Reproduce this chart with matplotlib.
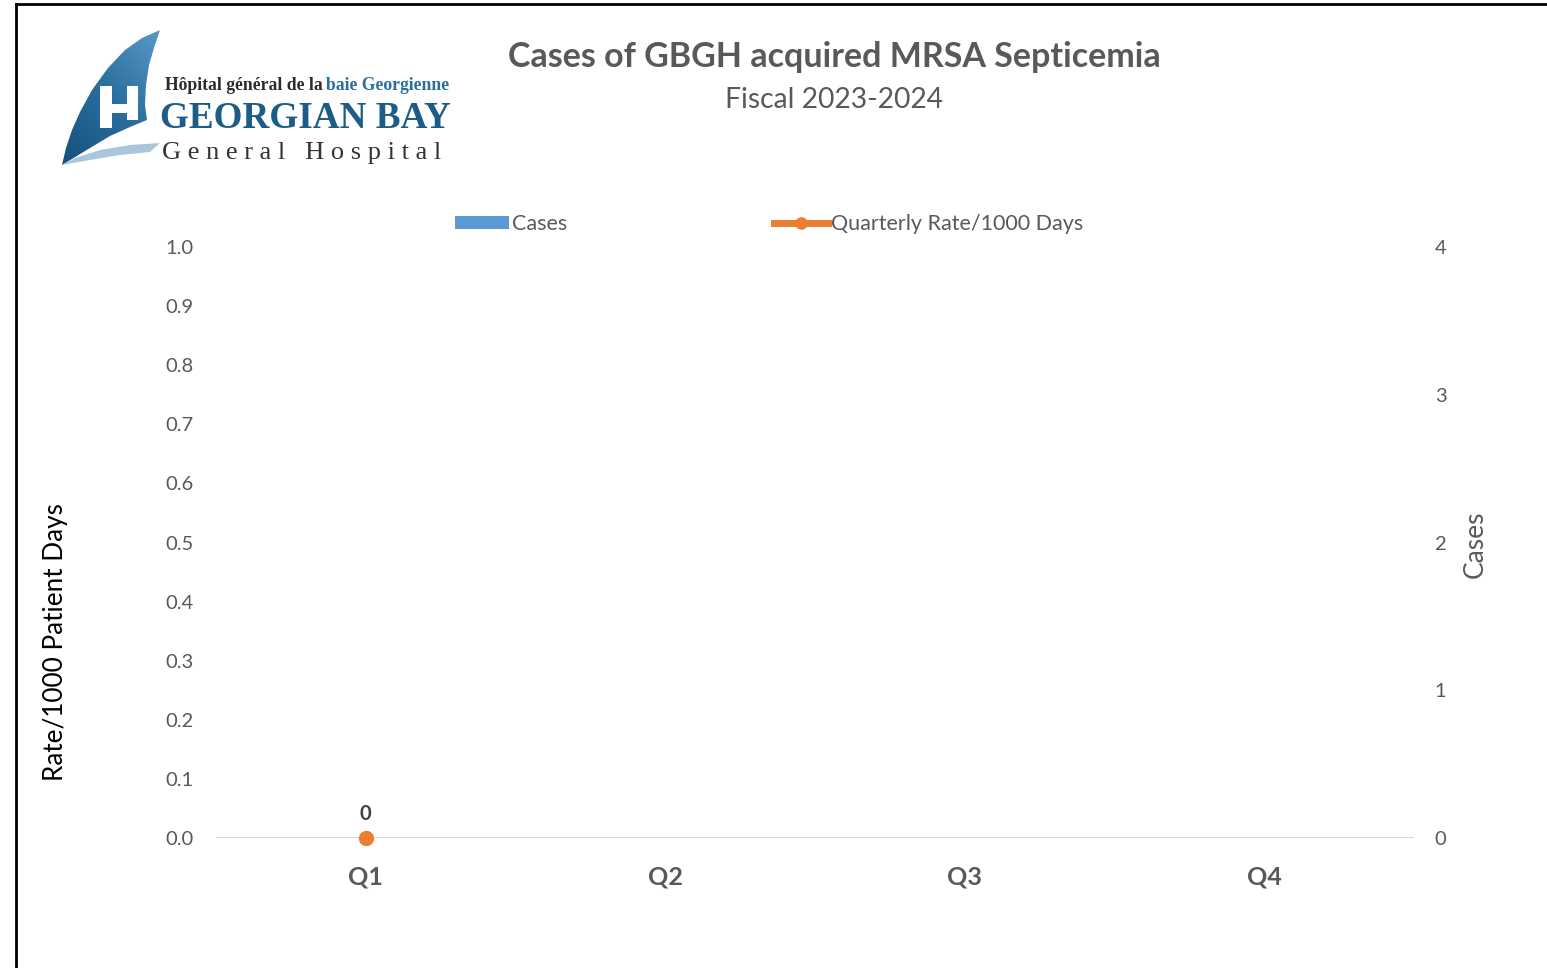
import matplotlib
matplotlib.use("Agg")
import matplotlib.pyplot as plt
from matplotlib.patches import Polygon, Rectangle, Patch
from matplotlib.lines import Line2D
from matplotlib.colors import LinearSegmentedColormap
import numpy as np

# ---- data ----
quarters = ["Q1", "Q2", "Q3", "Q4"]
cases = [0, None, None, None]
rate = [0.0, None, None, None]
rate_ticks = [0.0, 0.1, 0.2, 0.3, 0.4, 0.5, 0.6, 0.7, 0.8, 0.9, 1.0]
case_ticks = [0, 1, 2, 3, 4]

title = "Cases of GBGH acquired MRSA Septicemia"
subtitle = "Fiscal 2023-2024"

FONT = "Lato"
GRAY = "#595959"
BLUE = "#5B9BD5"
ORANGE = "#ED7D31"

W, H = 1547, 968
fig = plt.figure(figsize=(W / 100, H / 100), dpi=100)
fig.patch.set_facecolor("white")

def fx(px):
    return px / W

def fy(py):
    return 1 - py / H

# main axes
left, right, top, bottom = 216, 1414, 247, 838
ax = fig.add_axes([fx(left), fy(bottom), fx(right - left), (bottom - top) / H])
ax2 = ax.twinx()

x = np.arange(len(quarters))
case_vals = [np.nan if v is None else v for v in cases]
rate_vals = [np.nan if v is None else v for v in rate]

ax2.bar(x, case_vals, width=0.5, color=BLUE, zorder=2)
ax.set_zorder(ax2.get_zorder() + 1)
ax.patch.set_visible(False)
ax.plot(x, rate_vals, color=ORANGE, lw=4, marker="o", markersize=10, zorder=5, clip_on=False)
for xi, v in zip(x, rate_vals):
    if not np.isnan(v):
        ax.annotate(f"{v:g}", (xi, v), xytext=(0, 10), textcoords="offset points",
                    ha="center", va="bottom", fontsize=14.5, fontweight="bold",
                    color="#404040", family=FONT)

ax.set_xlim(-0.5, len(quarters) - 0.5)
ax.set_ylim(0, 1.0)
ax2.set_ylim(0, 4)
ax.set_yticks(rate_ticks)
ax.set_yticklabels([f"{t:.1f}" for t in rate_ticks], fontsize=14.5, color=GRAY, family=FONT)
ax2.set_yticks(case_ticks)
ax2.set_yticklabels([str(t) for t in case_ticks], fontsize=14.5, color=GRAY, family=FONT)
ax.set_xticks(x)
ax.set_xticklabels(quarters, fontsize=18, fontweight="bold", color=GRAY, family=FONT)

for a in (ax, ax2):
    for s in a.spines.values():
        s.set_visible(False)
    a.tick_params(length=0)
ax.tick_params(axis="y", pad=16)
ax2.tick_params(axis="y", pad=15)
ax.tick_params(axis="x", pad=20)
ax.axhline(0, color="#D9D9D9", lw=1.5, zorder=1)

# axis labels
fig.text(fx(55), fy(642), "Rate/1000 Patient Days", rotation=90, ha="center", va="center",
         fontsize=18.8, color="black", family=FONT)
fig.text(fx(1475), fy(544), "Cases", rotation=90, ha="center", va="center",
         fontsize=19, color=GRAY, family=FONT)

# title
fig.text(fx(834), fy(57), title, ha="center", va="center", fontsize=24.5,
         fontweight="bold", color=GRAY, family=FONT)
fig.text(fx(834), fy(100), subtitle, ha="center", va="center", fontsize=20.3,
         color=GRAY, family=FONT)

# legend
handles = [Patch(facecolor=BLUE, edgecolor="none"),
           Line2D([0], [0], color=ORANGE, lw=5, marker="o", markersize=8)]
leg = fig.legend(handles, ["Cases", "Quarterly Rate/1000 Days"], loc="center",
                 bbox_to_anchor=(fx(769), fy(224)), ncol=2, frameon=False,
                 prop={"family": FONT, "size": 15.5}, labelcolor=GRAY,
                 handlelength=2.5, handletextpad=0.15, columnspacing=9.6,
                 handleheight=0.55)

# frame border
fig.add_artist(Line2D([fx(16), fx(16)], [fy(4), 0], color="black", lw=2,
                      transform=fig.transFigure))
fig.add_artist(Line2D([fx(16), 1], [fy(4), fy(4)], color="black", lw=2,
                      transform=fig.transFigure))

# logo (drawn in pixel coordinates)
lg = fig.add_axes([fx(40), fy(185), fx(430), 165 / H])
lg.set_xlim(40, 470)
lg.set_ylim(185, 20)
lg.axis("off")
sail_pts = [(160, 30), (154, 48), (149, 65), (146, 85), (145, 105), (147, 120),
            (130, 127), (110, 136), (90, 148), (62, 165),
            (66, 148), (72, 130), (80, 112), (92, 90), (108, 68), (125, 50), (142, 38)]
sail = Polygon(sail_pts, closed=True, facecolor="none", edgecolor="none")
lg.add_patch(sail)
cmap = LinearSegmentedColormap.from_list("sail", ["#5A9BC8", "#2A6E9E", "#14507A"])
gx, gy = np.meshgrid(np.linspace(0, 1, 60), np.linspace(0, 1, 60))
grad = 0.55 * gy + 0.45 * (1 - gx)
im = lg.imshow(grad, cmap=cmap, extent=(60, 162, 167, 28), origin="upper",
               aspect="auto", zorder=1)
im.set_clip_path(sail)
lg.set_xlim(40, 470)
lg.set_ylim(185, 20)
swoosh = Polygon([(62, 165), (90, 160), (120, 155), (150, 152), (160, 143),
                  (130, 145), (100, 150), (75, 158)],
                 closed=True, facecolor="#A9C7DC", edgecolor="none", zorder=2)
lg.add_patch(swoosh)
# H letter
lg.add_patch(Rectangle((100, 86), 12, 42, facecolor="white", edgecolor="none", zorder=3))
lg.add_patch(Rectangle((127, 86), 11, 34, facecolor="white", edgecolor="none", zorder=3))
lg.add_patch(Rectangle((100, 104), 38, 9, facecolor="white", edgecolor="none", zorder=3))
lg.text(165, 86, "Hôpital général de la", ha="left", va="center", fontsize=12.7,
        fontweight="bold", color="#2B2B2B", family="Liberation Serif")
lg.text(326, 86, "baie Georgienne", ha="left", va="center", fontsize=12.7,
        fontweight="bold", color="#2A6E9C", family="Liberation Serif")
lg.text(160, 118, "GEORGIAN BAY", ha="left", va="center", fontsize=26.7,
        fontweight="bold", color="#1C5D87", family="Liberation Serif")
lg.text(162, 153, "G e n e r a l   H o s p i t a l", ha="left", va="center", fontsize=19,
        color="#333333", family="Liberation Serif")

fig.savefig("out.png", dpi=100, facecolor="white")
